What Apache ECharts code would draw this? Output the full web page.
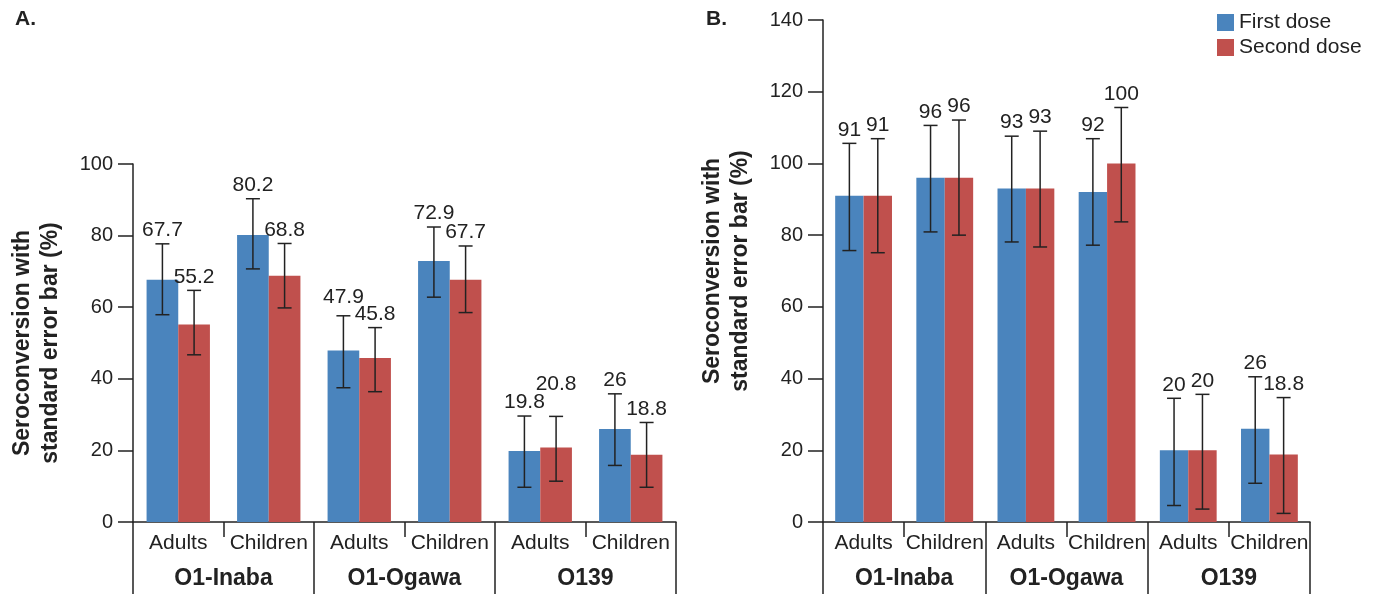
<!DOCTYPE html>
<html>
<head>
<meta charset="utf-8">
<script src="https://cdn.jsdelivr.net/npm/echarts@6/dist/echarts.min.js"></script>
<style>
html,body{margin:0;padding:0;background:#fff;}
#chart{width:1379px;height:594px;}
</style>
</head>
<body>
<div id="chart"></div>
<script>
// ---- data ----
const categories = ['Adults', 'Children', 'Adults', 'Children', 'Adults', 'Children'];
const groups = ['O1-Inaba', 'O1-Ogawa', 'O139'];
const seriesNames = ['First dose', 'Second dose'];

// Panel A
const firstA = [67.7, 80.2, 47.9, 72.9, 19.8, 26];
const secondA = [55.2, 68.8, 45.8, 67.7, 20.8, 18.8];
const firstALow = [57.9, 70.7, 37.5, 62.8, 9.7, 15.8];
const firstAHigh = [77.7, 90.3, 57.6, 82.4, 29.6, 35.8];
const secondALow = [46.7, 59.8, 36.4, 58.5, 11.4, 9.7];
const secondAHigh = [64.7, 77.8, 54.3, 77.1, 29.5, 27.8];

// Panel B
const firstB = [91, 96, 93, 92, 20, 26];
const secondB = [91, 96, 93, 100, 20, 18.8];
const firstBLow = [75.7, 80.9, 78.1, 77.2, 4.6, 10.8];
const firstBHigh = [105.6, 110.6, 107.6, 106.9, 34.5, 40.5];
const secondBLow = [75.1, 80.0, 76.7, 83.7, 3.6, 2.4];
const secondBHigh = [106.9, 112.1, 109.0, 115.6, 35.6, 34.7];

const yTicksA = {min: 0, max: 100, interval: 20};
const yTicksB = {min: 0, max: 140, interval: 20};

// ---- styling ----
const BLUE = '#4a84bd';
const RED = '#c0504d';
const INK = '#222';
const FONT = "'Liberation Sans', Arial, Helvetica, sans-serif";
// extra upward label shift (px) to keep adjacent labels apart, as in the original
const liftFirstA = [0, 0, 5, 0, 0, 0];
const liftSecondA = [0, 0, 0, 0, 19, 0];
const noLift = [0, 0, 0, 0, 0, 0];

function errData(vals, low, high) {
  return vals.map((v, i) => [i, low[i], high[i], v]);
}

function errSeries(name, vals, low, high, side, xi, yi, lift) {
  return {
    type: 'custom',
    name: name,
    xAxisIndex: xi,
    yAxisIndex: yi,
    z: 5,
    silent: true,
    data: errData(vals, low, high),
    renderItem: function (params, api) {
      const ci = api.value(0);
      const cw = api.size([1, 0])[0];
      const cx = api.coord([ci, 0])[0] + side * cw * 0.175;
      const yTop = api.coord([ci, api.value(2)])[1];
      const yBot = api.coord([ci, api.value(1)])[1];
      const cap = 7;
      const ls = {stroke: INK, lineWidth: 1.5};
      return {
        type: 'group',
        children: [
          {type: 'line', shape: {x1: cx, y1: yTop, x2: cx, y2: yBot}, style: ls},
          {type: 'line', shape: {x1: cx - cap, y1: yTop, x2: cx + cap, y2: yTop}, style: ls},
          {type: 'line', shape: {x1: cx - cap, y1: yBot, x2: cx + cap, y2: yBot}, style: ls},
          {type: 'text', style: {text: String(api.value(3)), x: cx, y: yTop - 3 - lift[params.dataIndex],
            align: 'center', verticalAlign: 'bottom', font: '21px ' + FONT, fill: INK}}
        ]
      };
    }
  };
}

function catAxis(gi) {
  return {
    type: 'category', gridIndex: gi, data: categories, position: 'bottom',
    axisLine: {show: true, lineStyle: {color: INK, width: 1.5}},
    axisTick: {show: true, interval: 0, length: 15, lineStyle: {color: INK, width: 1.5}},
    axisLabel: {interval: 0, color: INK, fontSize: 21, fontFamily: FONT, margin: 11}
  };
}
function groupAxis(gi) {
  return {
    type: 'category', gridIndex: gi, data: groups, position: 'bottom',
    axisLine: {show: false},
    axisTick: {show: true, interval: 0, length: 72, lineStyle: {color: INK, width: 1.5}},
    axisLabel: {interval: 0, color: INK, fontSize: 23, fontWeight: 'bold', fontFamily: FONT, margin: 45}
  };
}
function valAxis(gi, t) {
  return {
    type: 'value', gridIndex: gi, min: t.min, max: t.max, interval: t.interval,
    name: 'Seroconversion with\nstandard error bar (%)',
    nameLocation: 'middle', nameGap: 68,
    nameTextStyle: {color: INK, fontSize: 23, fontWeight: 'bold', fontFamily: FONT, lineHeight: 28},
    axisLine: {show: true, lineStyle: {color: INK, width: 1.5}},
    axisTick: {show: true, length: 15, lineStyle: {color: INK, width: 1.5}},
    axisLabel: {color: INK, fontSize: 20, fontFamily: FONT, margin: 20},
    splitLine: {show: false}
  };
}
function barSeries(name, data, color, xi, yi) {
  return {
    type: 'bar', name: name, data: data, xAxisIndex: xi, yAxisIndex: yi,
    barGap: '0%', barCategoryGap: '30%',
    itemStyle: {color: color}, silent: true
  };
}

const chart = echarts.init(document.getElementById('chart'), null, {renderer: 'canvas'});
chart.setOption({
  animation: false,
  backgroundColor: '#fff',
  textStyle: {fontFamily: FONT},
  grid: [
    {left: 133, top: 164, width: 543, height: 358},
    {left: 823, top: 20, width: 487, height: 502}
  ],
  legend: {
    data: seriesNames, orient: 'vertical', left: 1212, top: 7,
    itemWidth: 17, itemHeight: 17, itemGap: 4, icon: 'rect',
    textStyle: {color: INK, fontSize: 21, fontFamily: FONT}
  },
  xAxis: [catAxis(0), groupAxis(0), catAxis(1), groupAxis(1)],
  yAxis: [valAxis(0, yTicksA), valAxis(1, yTicksB)],
  graphic: [
    {type: 'text', left: 15, top: 9, style: {text: 'A.', font: 'bold 21px ' + FONT, fill: INK}},
    {type: 'text', left: 706, top: 9, style: {text: 'B.', font: 'bold 21px ' + FONT, fill: INK}}
  ],
  series: [
    barSeries(seriesNames[0], firstA, BLUE, 0, 0),
    barSeries(seriesNames[1], secondA, RED, 0, 0),
    barSeries(seriesNames[0], firstB, BLUE, 2, 1),
    barSeries(seriesNames[1], secondB, RED, 2, 1),
    errSeries('errFirstA', firstA, firstALow, firstAHigh, -1, 0, 0, liftFirstA),
    errSeries('errSecondA', secondA, secondALow, secondAHigh, 1, 0, 0, liftSecondA),
    errSeries('errFirstB', firstB, firstBLow, firstBHigh, -1, 2, 1, noLift),
    errSeries('errSecondB', secondB, secondBLow, secondBHigh, 1, 2, 1, noLift)
  ]
});
</script>
</body>
</html>
